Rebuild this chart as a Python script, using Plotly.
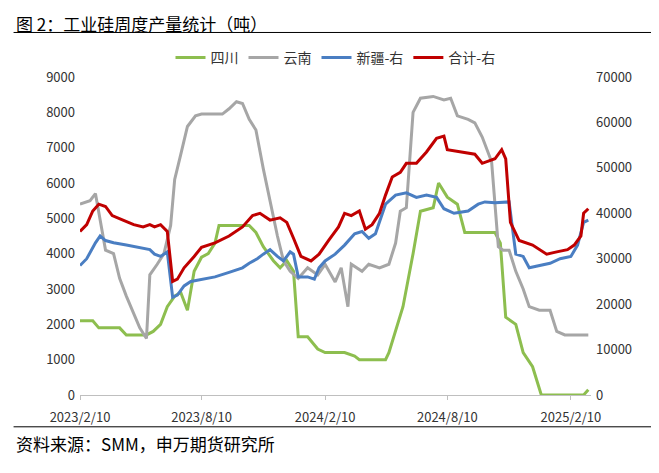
import plotly.graph_objects as go

sc_d=["2023-02-10","2023-03-01","2023-03-10","2023-04-10","2023-04-20","2023-05-20","2023-05-30","2023-06-10","2023-06-20","2023-07-01","2023-07-10","2023-07-20","2023-07-30","2023-08-10","2023-08-20","2023-08-30","2023-09-05","2023-10-20","2023-10-30","2023-11-10","2023-11-25","2023-12-05","2023-12-15","2023-12-25","2024-01-01","2024-01-15","2024-01-30","2024-02-10","2024-03-10","2024-03-25","2024-04-01","2024-05-10","2024-05-15","2024-05-25","2024-06-05","2024-06-20","2024-07-01","2024-07-20","2024-07-28","2024-08-10","2024-08-25","2024-09-05","2024-10-20","2024-10-28","2024-11-05","2024-11-20","2024-12-01","2024-12-15","2024-12-28","2025-03-01","2025-03-08"]
sc_v=[2100,2100,1900,1900,1700,1700,1800,2000,2500,2800,2900,2400,3500,3900,4000,4300,4800,4800,4600,4200,3800,3600,3800,3500,1650,1650,1300,1200,1200,1100,1000,1000,1200,1800,2500,4000,5200,5300,6000,5600,5400,4600,4600,4300,2200,2000,1200,800,0,0,150]

yn_d=["2023-02-10","2023-02-25","2023-03-05","2023-03-12","2023-03-20","2023-04-01","2023-04-10","2023-04-20","2023-05-01","2023-05-10","2023-05-20","2023-05-25","2023-06-05","2023-06-15","2023-06-25","2023-07-01","2023-07-10","2023-07-20","2023-08-01","2023-08-10","2023-09-10","2023-09-20","2023-10-01","2023-10-10","2023-10-20","2023-10-30","2023-11-10","2023-11-20","2023-12-01","2023-12-10","2023-12-20","2024-01-01","2024-01-15","2024-01-30","2024-02-10","2024-02-25","2024-03-05","2024-03-15","2024-03-20","2024-04-05","2024-04-15","2024-05-01","2024-05-15","2024-05-25","2024-06-01","2024-06-10","2024-06-20","2024-07-01","2024-07-20","2024-08-05","2024-08-15","2024-08-25","2024-09-10","2024-09-20","2024-10-01","2024-10-15","2024-10-25","2024-11-01","2024-11-10","2024-11-20","2024-12-01","2024-12-10","2024-12-25","2025-01-10","2025-01-20","2025-02-01","2025-03-08"]
yn_v=[5400,5500,5700,5000,4100,4000,3300,2800,2300,1900,1600,3400,3700,4000,4800,6100,6800,7600,7900,7950,7950,8100,8300,8250,7800,7500,6400,5500,4500,3800,3500,3300,3600,3400,3700,3200,3600,2500,3700,3500,3700,3600,3700,4300,5200,5300,8000,8400,8450,8350,8400,7900,7800,7700,7300,6600,4200,4100,4100,3500,3000,2500,2400,2400,1800,1700,1700]

xj_d=["2023-02-10","2023-02-20","2023-03-05","2023-03-12","2023-03-20","2023-04-01","2023-04-20","2023-05-10","2023-05-25","2023-06-01","2023-06-10","2023-06-20","2023-06-28","2023-07-05","2023-07-15","2023-07-25","2023-08-10","2023-08-30","2023-09-20","2023-10-10","2023-10-20","2023-11-01","2023-11-10","2023-11-20","2023-12-01","2023-12-10","2023-12-20","2023-12-25","2024-01-01","2024-01-15","2024-01-25","2024-02-01","2024-02-10","2024-02-25","2024-03-10","2024-03-25","2024-04-05","2024-04-15","2024-04-25","2024-05-10","2024-05-25","2024-06-10","2024-06-25","2024-07-10","2024-07-25","2024-08-05","2024-08-20","2024-09-10","2024-09-25","2024-10-05","2024-10-20","2024-11-10","2024-11-20","2024-12-01","2024-12-10","2024-12-25","2025-01-10","2025-01-25","2025-02-10","2025-02-20","2025-03-01","2025-03-08"]
xj_v=[28500,30000,33500,35000,34000,33500,33000,32500,32000,31000,30500,31500,21500,22000,24000,25000,25500,26000,27000,28000,29000,30000,31000,32000,30500,29500,31500,31000,26000,26000,25500,28000,29500,31000,33000,35500,36000,34500,35500,42000,44000,44500,43500,44000,43500,41000,40000,40500,42000,42500,42300,42500,31000,30500,28000,28500,29000,30000,30500,33000,38000,38500]

hj_d=["2023-02-10","2023-02-20","2023-03-01","2023-03-10","2023-03-20","2023-03-30","2023-04-15","2023-05-01","2023-05-15","2023-05-25","2023-06-01","2023-06-10","2023-06-20","2023-06-28","2023-07-05","2023-07-15","2023-07-30","2023-08-10","2023-08-30","2023-09-20","2023-10-10","2023-10-25","2023-11-05","2023-11-20","2023-12-05","2023-12-15","2023-12-25","2024-01-05","2024-01-20","2024-02-01","2024-02-15","2024-03-01","2024-03-10","2024-03-20","2024-04-01","2024-04-10","2024-04-20","2024-05-01","2024-05-10","2024-05-20","2024-06-01","2024-06-10","2024-06-25","2024-07-10","2024-07-25","2024-08-05","2024-08-10","2024-09-01","2024-09-20","2024-10-01","2024-10-20","2024-10-30","2024-11-05","2024-11-12","2024-11-25","2024-12-15","2025-01-05","2025-01-20","2025-02-05","2025-02-15","2025-02-25","2025-03-01","2025-03-08"]
hj_v=[36000,37500,40500,42000,41500,39500,38500,37500,37000,37500,37000,37500,36000,25000,25500,28000,30500,32500,33500,35000,37000,39500,40000,38500,39000,38000,34500,30500,29500,31000,34000,37000,40000,39500,40500,36500,37500,40000,44000,48000,49000,51000,51000,53500,56500,57000,54000,53500,53000,51000,52000,54000,52000,38000,34000,33000,31000,31500,32000,33000,35000,40000,41000]

tickvals=["2023-02-10","2023-08-10","2024-02-10","2024-08-10","2025-02-10"]
ticktext=["2023/2/10","2023/8/10","2024/2/10","2024/8/10","2025/2/10"]

fig=go.Figure()
fig.add_trace(go.Scatter(x=sc_d,y=sc_v,name="四川",line=dict(color="#8DBE4F",width=3)))
fig.add_trace(go.Scatter(x=yn_d,y=yn_v,name="云南",line=dict(color="#A6A6A6",width=3)))
fig.add_trace(go.Scatter(x=xj_d,y=xj_v,name="新疆-右",yaxis="y2",line=dict(color="#4A7EC2",width=3)))
fig.add_trace(go.Scatter(x=hj_d,y=hj_v,name="合计-右",yaxis="y2",line=dict(color="#C00000",width=3)))
f=dict(family="Noto Sans CJK SC",size=13,color="#333")
fig.update_layout(width=659,height=473,plot_bgcolor="white",paper_bgcolor="white",
    margin=dict(l=72,r=76,t=69,b=86,autoexpand=False),font=f,showlegend=True,
    legend=dict(orientation="h",x=0.5,xanchor="center",y=1.06,yanchor="middle",font=dict(size=14),bgcolor="rgba(0,0,0,0)"),
    xaxis=dict(type="date",range=["2023-02-10","2025-03-12"],tickvals=tickvals,ticktext=ticktext,showgrid=False,
               showline=True,linecolor="#BFBFBF",ticks="outside",ticklen=4,tickcolor="#BFBFBF",ticklabelstandoff=6),
    yaxis=dict(range=[0,9000],dtick=1000,showgrid=False,showline=False,tickformat="d",ticklabelstandoff=4),
    yaxis2=dict(range=[0,70000],dtick=10000,overlaying="y",side="right",showgrid=False,tickformat="d",ticklabelstandoff=4),
    annotations=[dict(text="图 2：工业硅周度产量统计（吨）",x=0,y=1,xref="paper",yref="paper",xanchor="left",yanchor="middle",
                      showarrow=False,font=dict(size=17,color="#000"),xshift=-66,yshift=54),
                 dict(text="资料来源：SMM，申万期货研究所",x=0,y=0,xref="paper",yref="paper",xanchor="left",yanchor="middle",
                      showarrow=False,font=dict(size=17,color="#000"),xshift=-66,yshift=-48)],
    shapes=[dict(type="line",xref="paper",yref="paper",x0=-0.13,x1=1.14,y0=1.14,y1=1.14,line=dict(color="#000",width=1)),
            dict(type="line",xref="paper",yref="paper",x0=-0.13,x1=1.14,y0=-0.1,y1=-0.1,line=dict(color="#000",width=1))])
fig.write_html("out.html")
